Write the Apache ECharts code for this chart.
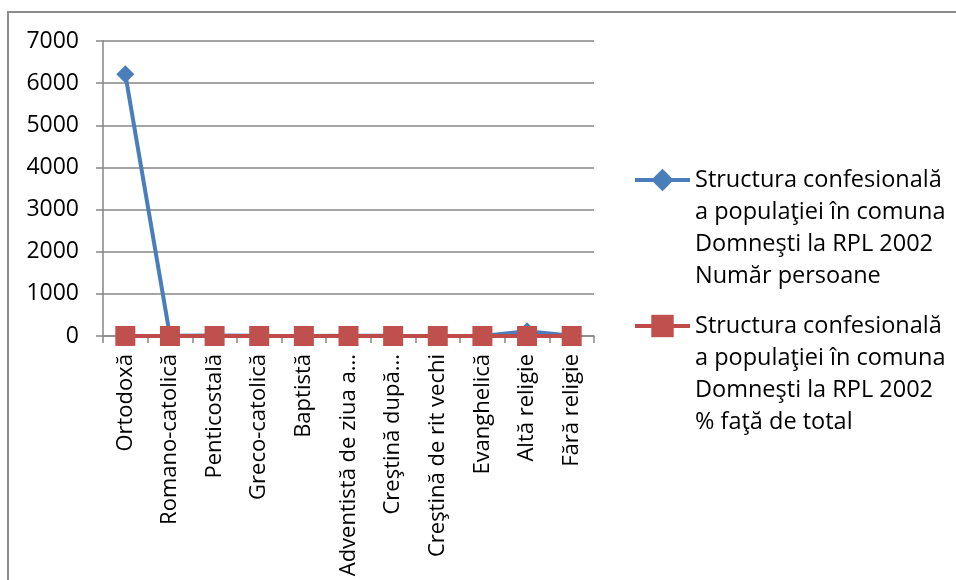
<!DOCTYPE html>
<html>
<head>
<meta charset="utf-8">
<script src="https://cdn.jsdelivr.net/npm/echarts@6/dist/echarts.min.js"></script>
<style>
  html, body { margin: 0; padding: 0; background: #fff; }
  #frame { position: absolute; left: 7px; top: 11px; width: 1000px; height: 700px; border-left: 2px solid #8c8c8c; border-top: 2px solid #8c8c8c; box-sizing: border-box; }
  #chart { position: absolute; left: 0; top: 0; width: 956px; height: 580px; }
</style>
</head>
<body>
<div id="frame"></div>
<div id="chart"></div>
<script>
const categories = ['Ortodoxă', 'Romano-catolică', 'Penticostală', 'Greco-catolică', 'Baptistă', 'Adventistă de ziua a şaptea', 'Creştină după evanghelie', 'Creştină de rit vechi', 'Evanghelică', 'Altă religie', 'Fără religie'];
const tickLabels = ['Ortodoxă', 'Romano-catolică', 'Penticostală', 'Greco-catolică', 'Baptistă', 'Adventistă de ziua a...', 'Creştină după...', 'Creştină de rit vechi', 'Evanghelică', 'Altă religie', 'Fără religie'];
const numberPersons = [6210, 4, 12, 3, 2, 6, 3, 1, 2, 110, 8];
const percentOfTotal = [0.976, 0.0006, 0.0019, 0.0005, 0.0003, 0.0009, 0.0005, 0.0002, 0.0003, 0.0173, 0.0013];
const seriesNames = [
  'Structura confesională\na populaţiei în comuna\nDomneşti la RPL 2002\nNumăr persoane',
  'Structura confesională\na populaţiei în comuna\nDomneşti la RPL 2002\n% faţă de total'
];
const yTicks = { min: 0, max: 7000, interval: 1000 };

const FONT = 'Open Sans';
const chart = echarts.init(document.getElementById('chart'));
const legendCommon = {
  orient: 'vertical', left: 633, padding: 0,
  itemWidth: 55, itemHeight: 28,
  lineStyle: { width: 4 },
  formatter: name => '\n\n\n' + name,
  textStyle: { fontFamily: FONT, fontSize: 23.5, color: '#000', lineHeight: 32 }
};
chart.setOption({
  animation: false,
  textStyle: { fontFamily: FONT },
  grid: { left: 103, right: 362, top: 41, bottom: 244, containLabel: false, outerBoundsMode: 'none' },
  legend: [
    Object.assign({}, legendCommon, { top: 68, data: [seriesNames[0]] }),
    Object.assign({}, legendCommon, { top: 214, data: [seriesNames[1]] })
  ],
  xAxis: {
    type: 'category', data: categories, boundaryGap: true,
    axisLine: { lineStyle: { color: '#868686', width: 1.5 } },
    axisTick: { show: true, length: 7, alignWithLabel: false, lineStyle: { color: '#868686', width: 1.5 } },
    axisLabel: {
      rotate: 90, interval: 0, margin: 18, fontFamily: FONT, fontSize: 22, color: '#000',
      formatter: (v, i) => tickLabels[i]
    }
  },
  yAxis: {
    type: 'value', min: yTicks.min, max: yTicks.max, interval: yTicks.interval,
    axisLine: { show: true, lineStyle: { color: '#868686', width: 1.5 } },
    axisTick: { show: true, length: 7, lineStyle: { color: '#868686', width: 1.5 } },
    splitLine: { lineStyle: { color: '#868686', width: 1.5 } },
    axisLabel: { margin: 24, fontFamily: FONT, fontSize: 23, color: '#000', formatter: v => String(v) }
  },
  series: [
    {
      name: seriesNames[0], type: 'line', data: numberPersons,
      symbol: 'diamond', symbolSize: 18,
      lineStyle: { color: '#4A7EBB', width: 4 },
      itemStyle: { color: '#4A7EBB' }
    },
    {
      name: seriesNames[1], type: 'line', data: percentOfTotal,
      symbol: 'rect', symbolSize: 20,
      lineStyle: { color: '#BE4B48', width: 4 },
      itemStyle: { color: '#C0504D' }
    }
  ]
});
</script>
</body>
</html>
